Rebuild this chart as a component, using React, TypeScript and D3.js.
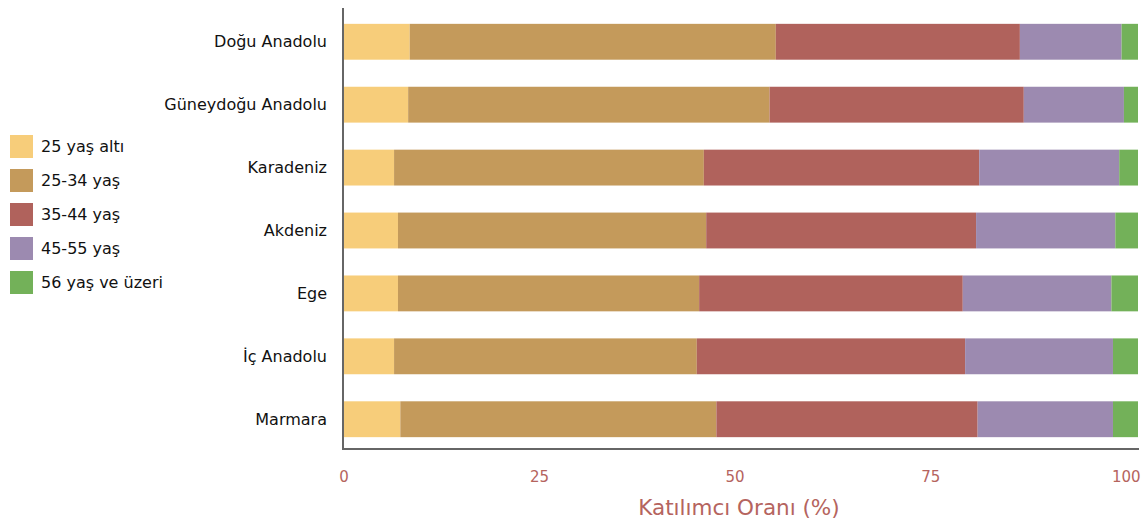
import React from "react";
import * as d3 from "d3";

const regions = ["Doğu Anadolu", "Güneydoğu Anadolu", "Karadeniz", "Akdeniz", "Ege", "İç Anadolu", "Marmara"];
const ageGroups = ["25 yaş altı", "25-34 yaş", "35-44 yaş", "45-55 yaş", "56 yaş ve üzeri"];
const under25 = [8.4, 8.2, 6.4, 6.9, 6.9, 6.4, 7.2];
const age25to34 = [46.8, 46.2, 39.6, 39.4, 38.5, 38.7, 40.4];
const age35to44 = [31.2, 32.5, 35.2, 34.5, 33.7, 34.3, 33.4];
const age45to55 = [13.0, 12.8, 17.9, 17.8, 19.0, 18.9, 17.3];
const age56plus = [2.1, 1.8, 2.4, 2.9, 3.4, 3.2, 3.2];
const xTicks = [0, 25, 50, 75, 100];
const colors = ["#F7CD7A", "#C49A5B", "#B0625C", "#9C8AB0", "#73B159"];
const xTitle = "Katılımcı Oranı (%)";

const series = [under25, age25to34, age35to44, age45to55, age56plus];

export default function App() {
  const W = 1148, H = 525;
  const left = 344, right = 1138, top = 8, bottom = 449;
  const font = "'DejaVu Sans', Verdana, sans-serif";

  const rows = regions.map((r, i) => {
    const o: any = { region: r };
    ageGroups.forEach((g, k) => (o[g] = series[k][i]));
    return o;
  });
  const stacked = d3.stack().keys(ageGroups)(rows);
  const maxTotal = d3.max(rows, (r: any) => d3.sum(ageGroups, (g) => r[g])) as number;

  const x = d3.scaleLinear().domain([0, maxTotal]).range([left, right]);
  const y = d3.scaleBand().domain(regions).range([top + 2, bottom + 2]).paddingInner(0.43).paddingOuter(0.22);
  const color = d3.scaleOrdinal<string, string>().domain(ageGroups).range(colors);

  return (
    <svg width={W} height={H} style={{ position: "absolute", left: 0, top: 0, background: "#fff" }} fontFamily={font}>
      {stacked.map((s) => (
        <g key={s.key} fill={color(s.key)}>
          {s.map((d, i) => (
            <rect key={i} x={x(d[0])} y={y(regions[i])} width={x(d[1]) - x(d[0])} height={y.bandwidth()} />
          ))}
        </g>
      ))}
      <line x1={left - 1} x2={left - 1} y1={top} y2={bottom + 1} stroke="#666" strokeWidth={2} />
      <line x1={left - 2} x2={right + 1} y1={bottom} y2={bottom} stroke="#666" strokeWidth={2} />
      {regions.map((r) => (
        <text key={r} x={327} y={(y(r) as number) + y.bandwidth() / 2} dy="0.35em" textAnchor="end" fontSize={16} fill="#111">
          {r}
        </text>
      ))}
      {xTicks.map((t) => (
        <text key={t} x={x(t)} y={482} textAnchor="middle" fontSize={15} fill="#B5645E">
          {t}
        </text>
      ))}
      <text x={(left + right) / 2 - 2} y={515} textAnchor="middle" fontSize={21.5} fill="#B5645E">
        {xTitle}
      </text>
      {ageGroups.map((g, k) => (
        <g key={g} transform={`translate(10, ${135 + k * 34})`}>
          <rect width={23} height={23} fill={color(g)} />
          <text x={31} y={11.5} dy="0.35em" fontSize={16} fill="#111">
            {g}
          </text>
        </g>
      ))}
    </svg>
  );
}
